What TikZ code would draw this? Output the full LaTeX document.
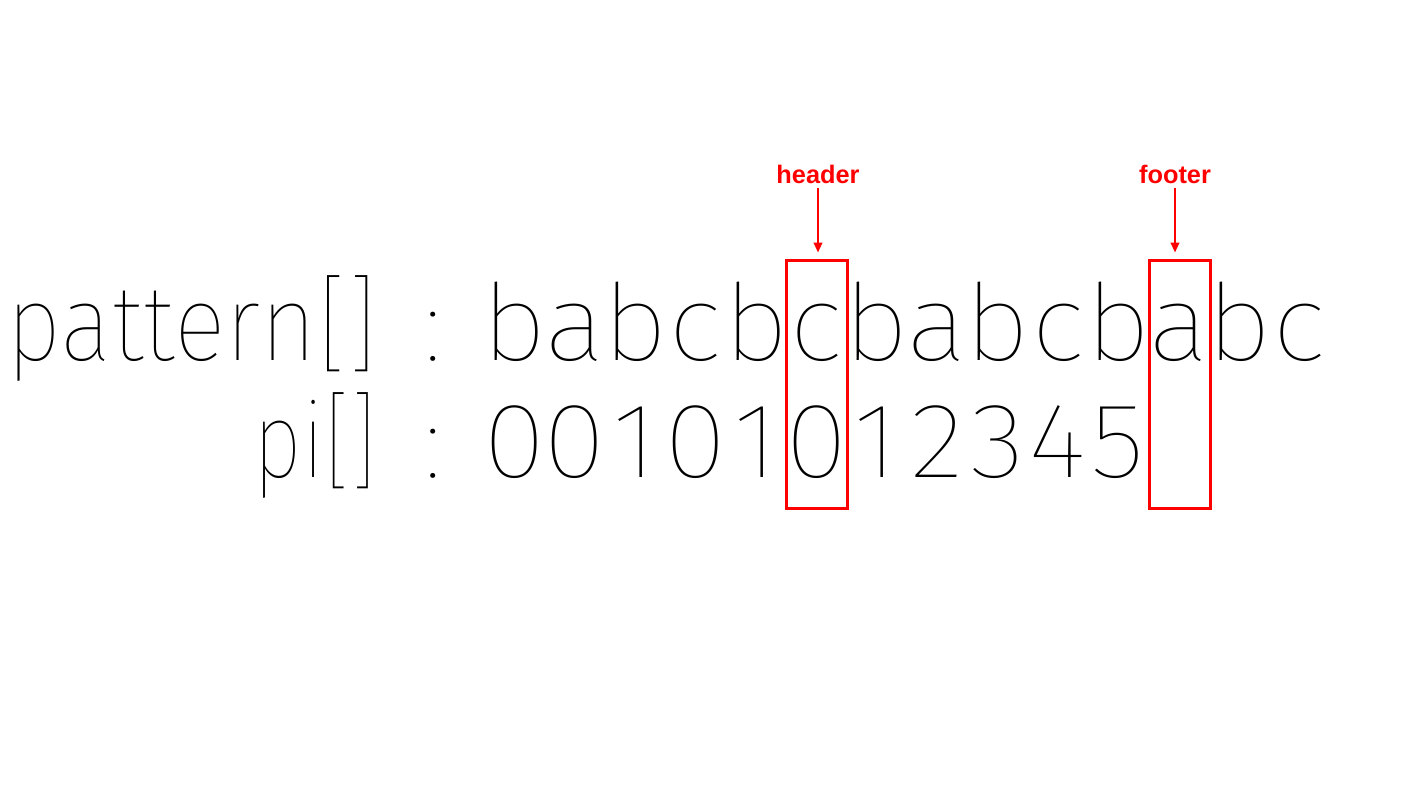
\documentclass[tikz,border=0pt]{standalone}
\usepackage{fontspec}
\usetikzlibrary{arrows.meta}
\newfontfamily\thinfont{Fira Sans Thin}
\newfontfamily\labelfont{Liberation Sans}

\tikzset{every picture/.style={line width=0.75pt}}
\tikzset{
	cell/.style={font=\thinfont\fontsize{80}{80}\selectfont, anchor=base, inner sep=0pt},
	mark box/.style={draw=red, line width=2.25pt, minimum width=45.75pt, minimum height=186pt, inner sep=0pt},
	mark label/.style={font=\labelfont\bfseries\fontsize{19}{19}\selectfont, text=red},
	mark arrow/.style={draw=red, line width=1.5pt, -{Triangle[length=7.5pt,width=6.5pt]}, shorten >=4.5pt}}

\begin{document}
\begin{tikzpicture}[x=0.75pt,y=0.75pt,yscale=-1,xscale=1]
	\useasboundingbox (0,0) rectangle (1408,790);

	% Text Node
	\node[cell, anchor=base east] (patname) at (378,360) {\scalebox{0.91}[1]{pattern[]}};
	% Text Node
	\node[cell, anchor=base east] (piname) at (378,477) {\scalebox{0.8}[1]{pi[]}};
	% Text Node
	\node[cell] (patcolon) at (433,360) {:};
	% Text Node
	\node[cell] (picolon) at (433,477) {:};

	% pattern characters
	\foreach \ch [count=\i from 0] in {b,a,b,c,b,c,b,a,b,c,b,a,b,c}
		\node[cell] (p\i) at (514.2+60.4*\i,360) {\scalebox{1.08}[1]{\ch}};
	% pi values
	\foreach \v [count=\i from 0] in {0,0,1,0,1,0,1,2,3,4,5}
		\node[cell] (v\i) at (514.2+60.4*\i,477) {\scalebox{1.08}[1]{\v}};

	%Shape: Rectangle [header]
	\node[mark box] (hbox) at (816.5,384) {};
	%Shape: Rectangle [footer]
	\node[mark box] (fbox) at (1179.5,384) {};

	% Text Node
	\node[mark label] (hlabel) at (818,174) {header};
	% Text Node
	\node[mark label] (flabel) at (1175,174) {footer};

	%Straight Lines
	\draw[mark arrow] (hlabel.south) -- (hlabel.south |- hbox.north);
	%Straight Lines
	\draw[mark arrow] (flabel.south) -- (flabel.south |- fbox.north);

\end{tikzpicture}
\end{document}
